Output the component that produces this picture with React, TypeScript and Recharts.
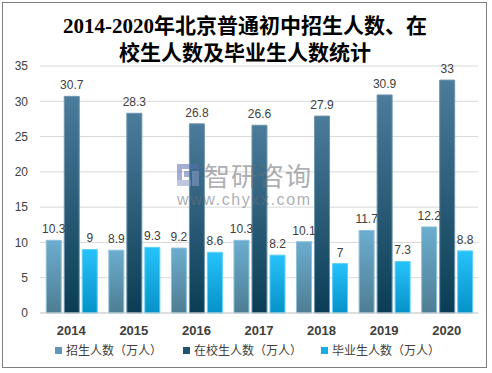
import React from 'react';
import { BarChart, Bar, XAxis, YAxis, CartesianGrid, LabelList } from 'recharts';

const years = ['2014', '2015', '2016', '2017', '2018', '2019', '2020'];
const enrolled = [10.3, 8.9, 9.2, 10.3, 10.1, 11.7, 12.2];
const inSchool = [30.7, 28.3, 26.8, 26.6, 27.9, 30.9, 33];
const graduates = [9, 9.3, 8.6, 8.2, 7, 7.3, 8.8];
const yTicks = [0, 5, 10, 15, 20, 25, 30, 35];
const seriesNames = ['招生人数（万人）', '在校生人数（万人）', '毕业生人数（万人）'];
const titleLines = ['2014-2020年北京普通初中招生人数、在', '校生人数及毕业生人数统计'];

const data = years.map((y, i) => ({
  year: y,
  enrolled: enrolled[i],
  inSchool: inSchool[i],
  graduates: graduates[i],
}));

const legendColors = ['#5f98b6', '#1f5571', '#16aee6'];

export default function App() {
  const font = "'Liberation Sans', 'Noto Sans CJK SC', sans-serif";
  return (
    <div style={{ position: 'absolute', left: 0, top: 0, width: 492, height: 373, background: '#fff', overflow: 'hidden' }}>
      <div style={{ position: 'absolute', left: 2, top: 2, width: 485, height: 366, border: '1px solid #7f7f7f', boxSizing: 'border-box' }} />
      <div style={{ position: 'absolute', left: 0, top: 0 }}>
        <BarChart
          width={492}
          height={373}
          data={data}
          margin={{ top: 66, right: 14, left: 0, bottom: 0 }}
          barCategoryGap="10%"
          barGap={3}
        >
          <defs>
            <linearGradient id="g1" x1="0" y1="0" x2="0" y2="1">
              <stop offset="0%" stopColor="#6cadcf" />
              <stop offset="100%" stopColor="#4e7d93" />
            </linearGradient>
            <linearGradient id="g2" x1="0" y1="0" x2="0" y2="1">
              <stop offset="0%" stopColor="#4b7c9b" />
              <stop offset="100%" stopColor="#0a3d55" />
            </linearGradient>
            <linearGradient id="g3" x1="0" y1="0" x2="0" y2="1">
              <stop offset="0%" stopColor="#27c2fa" />
              <stop offset="100%" stopColor="#0592c8" />
            </linearGradient>
          </defs>
          <CartesianGrid vertical={false} stroke="#d9d9d9" />
          <XAxis
            dataKey="year"
            height={60}
            tickLine={false}
            axisLine={{ stroke: '#d0d0d0' }}
            tickMargin={7}
            tick={{ fontSize: 13, fontWeight: 'bold', fill: '#404040', fontFamily: font }}
          />
          <YAxis
            width={40}
            domain={[0, 35]}
            ticks={yTicks}
            axisLine={false}
            tickLine={false}
            tickMargin={6}
            interval={0}
            tick={{ fontSize: 12, fill: '#404040', fontFamily: font }}
          />
          <Bar dataKey="enrolled" fill="url(#g1)" stroke="#8cc0da" strokeWidth={1} isAnimationActive={false}>
            <LabelList dataKey="enrolled" position="top" offset={7} style={{ fontSize: 12, fill: '#404040', fontFamily: font }} />
          </Bar>
          <Bar dataKey="inSchool" fill="url(#g2)" stroke="#6d95ad" strokeWidth={1} isAnimationActive={false}>
            <LabelList dataKey="inSchool" position="top" offset={7} style={{ fontSize: 12, fill: '#404040', fontFamily: font }} />
          </Bar>
          <Bar dataKey="graduates" fill="url(#g3)" stroke="#5fd0f5" strokeWidth={1} isAnimationActive={false}>
            <LabelList dataKey="graduates" position="top" offset={7} style={{ fontSize: 12, fill: '#404040', fontFamily: font }} />
          </Bar>
        </BarChart>
      </div>
      {/* Title */}
      <div
        style={{
          position: 'absolute',
          left: 0,
          top: 13,
          width: 490,
          textAlign: 'center',
          fontFamily: "'Liberation Serif', 'Noto Sans CJK SC', serif",
          fontWeight: 'bold',
          fontSize: 21,
          lineHeight: '27px',
          color: '#000',
        }}
      >
        <div>{titleLines[0]}</div>
        <div>{titleLines[1]}</div>
      </div>
      {/* Watermark */}
      <div style={{ position: 'absolute', left: 177, top: 161, opacity: 0.55, pointerEvents: 'none' }}>
        <svg width={24} height={24} style={{ position: 'absolute', left: 0, top: 3 }}>
          <rect x={0} y={0} width={22} height={5} fill="#5a6fb0" />
          <rect x={0} y={0} width={5} height={22} fill="#5a6fb0" />
          <rect x={7} y={7} width={6} height={6} fill="#5a6fb0" />
          <rect x={15} y={7} width={7} height={15} fill="#8c9bc8" />
          <rect x={0} y={16} width={14} height={6} fill="#8c9bc8" />
        </svg>
        <div style={{ position: 'absolute', left: 27, top: 0, whiteSpace: 'nowrap', fontFamily: "'Noto Sans CJK SC', sans-serif", fontSize: 26, lineHeight: '27px', color: '#6b6f78', letterSpacing: 1 }}>
          智研咨询
        </div>
        <div style={{ position: 'absolute', left: 0, top: 31, whiteSpace: 'nowrap', fontFamily: "'Liberation Sans', sans-serif", fontSize: 16, lineHeight: '16px', color: '#6b6f78', letterSpacing: 1.6 }}>
          www.chyxx.com
        </div>
      </div>
      {/* Legend */}
      {seriesNames.map((name, i) => {
        const lefts = [55, 183, 321];
        return (
          <div
            key={name}
            style={{
              position: 'absolute',
              left: lefts[i],
              top: 342,
              display: 'flex',
              alignItems: 'center',
              whiteSpace: 'nowrap',
              fontFamily: "'Noto Sans CJK SC', sans-serif",
              fontSize: 12,
              lineHeight: '16px',
              color: '#404040',
            }}
          >
            <span style={{ display: 'inline-block', width: 7, height: 7, background: legendColors[i], marginRight: 4 }} />
            <span>{name}</span>
          </div>
        );
      })}
    </div>
  );
}
